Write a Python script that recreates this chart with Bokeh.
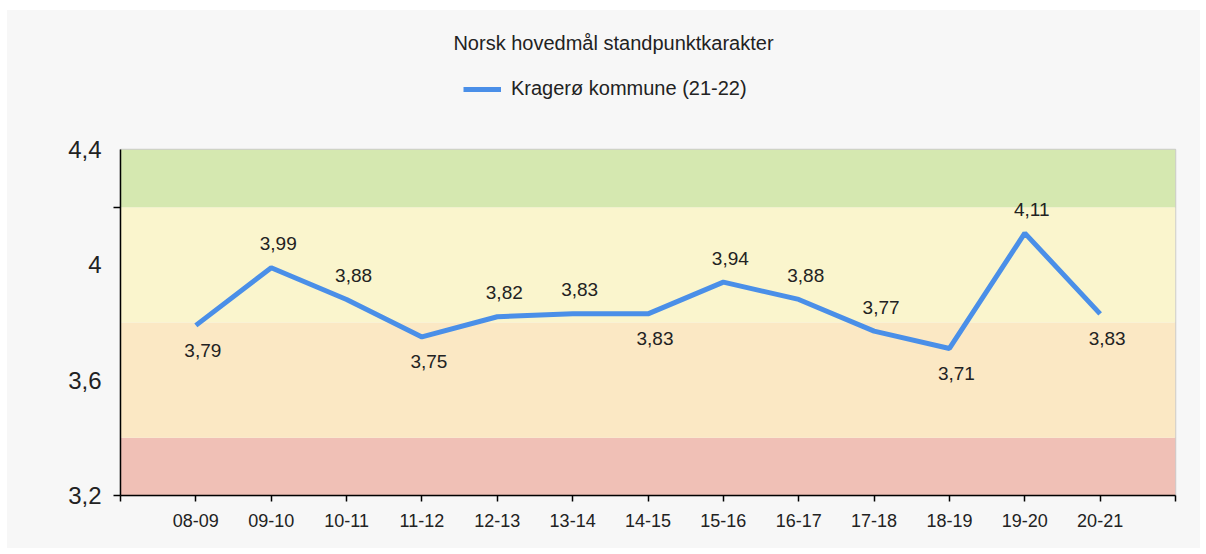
from bokeh.plotting import figure
from bokeh.layouts import column
from bokeh.models import (ColumnDataSource, FixedTicker, BoxAnnotation, LabelSet, Label,
                          Legend, LegendItem, Range1d)
from bokeh.core.properties import value
from bokeh.embed import file_html
from bokeh.resources import INLINE

# ---- data ----
seasons = ["08-09", "09-10", "10-11", "11-12", "12-13", "13-14", "14-15",
           "15-16", "16-17", "17-18", "18-19", "19-20", "20-21"]
grades = [3.79, 3.99, 3.88, 3.75, 3.82, 3.83, 3.83, 3.94, 3.88, 3.77, 3.71, 4.11, 3.83]
series_name = "Kragerø kommune (21-22)"
title_text = "Norsk hovedmål standpunktkarakter"
y_ticks = [3.2, 3.6, 4.0, 4.4]
y_tick_labels = ["3,2", "3,6", "4", "4,4"]
band_edges = [3.2, 3.4, 3.8, 4.2, 4.4]
band_colors = ["#f0c0b6", "#fbe8c4", "#faf5cd", "#d5e8b0"]

FONT = "Liberation Sans"
BG = "#f7f7f7"
LINE_COLOR = "#4a8fe8"
W = 1193
HEAD_H = 115
MAIN_H = 423
BORDER_L = 113
BORDER_R = 25

xs = list(range(1, len(seasons) + 1))
labels = [f"{v:.2f}".replace(".", ",") for v in grades]

# label above/below depending on neighbours
offs = []
for i, v in enumerate(grades):
    nb = []
    if i > 0:
        nb.append(grades[i - 1])
    if i < len(grades) - 1:
        nb.append(grades[i + 1])
    below = all(v <= n for n in nb)
    offs.append(-25 if below else 24)

src = ColumnDataSource(dict(x=xs, y=grades, lab=labels, yo=offs))

# ---- header (title + legend) ----
FW = W - BORDER_L - BORDER_R
head = figure(width=W, height=HEAD_H, output_backend="svg", toolbar_location=None,
              x_range=Range1d(0, FW), y_range=Range1d(0, HEAD_H),
              x_axis_type=None, y_axis_type=None,
              min_border_left=BORDER_L, min_border_right=BORDER_R,
              min_border_top=0, min_border_bottom=0)
head.border_fill_alpha = 0
head.background_fill_alpha = 0
head.outline_line_color = None
head.xgrid.visible = False
head.ygrid.visible = False
head.add_layout(Label(x=493, y=HEAD_H - 32, text=title_text,
                      text_align="center", text_baseline="middle",
                      text_font=FONT, text_font_size="20px", text_color="#222222"))
dummy = head.line([-100, -50], [-100, -100], line_color=LINE_COLOR, line_width=5)
legend = Legend(items=[LegendItem(label=series_name, renderers=[dummy])],
                orientation="horizontal", location=(343, 25),
                background_fill_alpha=0, border_line_color=None,
                label_text_font=FONT, label_text_font_size="20px", label_text_color="#222222",
                glyph_width=38, glyph_height=20, label_standoff=10, margin=0, padding=0)
head.add_layout(legend, "center")

# ---- main chart ----
p = figure(width=W, height=MAIN_H, output_backend="svg", toolbar_location=None,
           x_range=Range1d(0, len(seasons) + 1), y_range=Range1d(y_ticks[0], y_ticks[-1]),
           min_border_left=BORDER_L, min_border_right=BORDER_R,
           min_border_top=24, min_border_bottom=53)
p.border_fill_alpha = 0
p.background_fill_alpha = 0
p.outline_line_color = "#cccccc"
p.outline_line_width = 1.5
p.xgrid.visible = False
p.ygrid.visible = False

for lo, hi, c in zip(band_edges[:-1], band_edges[1:], band_colors):
    p.add_layout(BoxAnnotation(bottom=lo, top=hi, fill_color=c, fill_alpha=1,
                               line_color=None, level="underlay"))

r = p.line("x", "y", source=src, line_color=LINE_COLOR, line_width=5)

p.add_layout(LabelSet(x="x", y="y", text="lab", source=src, x_offset=7, y_offset="yo",
                      text_align="center", text_baseline="middle",
                      text_font=value(FONT), text_font_size="19px", text_color="#222222"))

# axes
p.xaxis.ticker = FixedTicker(ticks=list(range(0, len(seasons) + 2)))
p.xaxis.major_label_overrides = {0: "", len(seasons) + 1: "", **{i + 1: s for i, s in enumerate(seasons)}}
p.xaxis.major_tick_in = 0
p.xaxis.major_tick_out = 6
p.xaxis.minor_tick_line_color = None
p.xaxis.major_label_text_font = FONT
p.xaxis.major_label_text_font_size = "18px"
p.xaxis.major_label_text_color = "#222222"
p.xaxis.major_label_standoff = 12
p.xaxis.axis_line_width = 1.5
p.xaxis.major_tick_line_width = 1.5

p.yaxis.ticker = FixedTicker(ticks=y_ticks, minor_ticks=[3.2, 4.2])
p.yaxis.major_label_overrides = {t: l for t, l in zip(y_ticks, y_tick_labels)}
p.yaxis.major_tick_in = 0
p.yaxis.major_tick_out = 0
p.yaxis.minor_tick_in = 0
p.yaxis.minor_tick_out = 7
p.yaxis.minor_tick_line_color = "black"
p.yaxis.minor_tick_line_width = 1.5
p.yaxis.major_label_text_font = FONT
p.yaxis.major_label_text_font_size = "24px"
p.yaxis.major_label_text_color = "#222222"
p.yaxis.major_label_standoff = 12
p.yaxis.axis_line_width = 1.5

layout = column(head, p, spacing=0, margin=(10, 0, 0, 7),
                styles={"background-color": BG})

open("out.html", "w").write(file_html(layout, INLINE))
